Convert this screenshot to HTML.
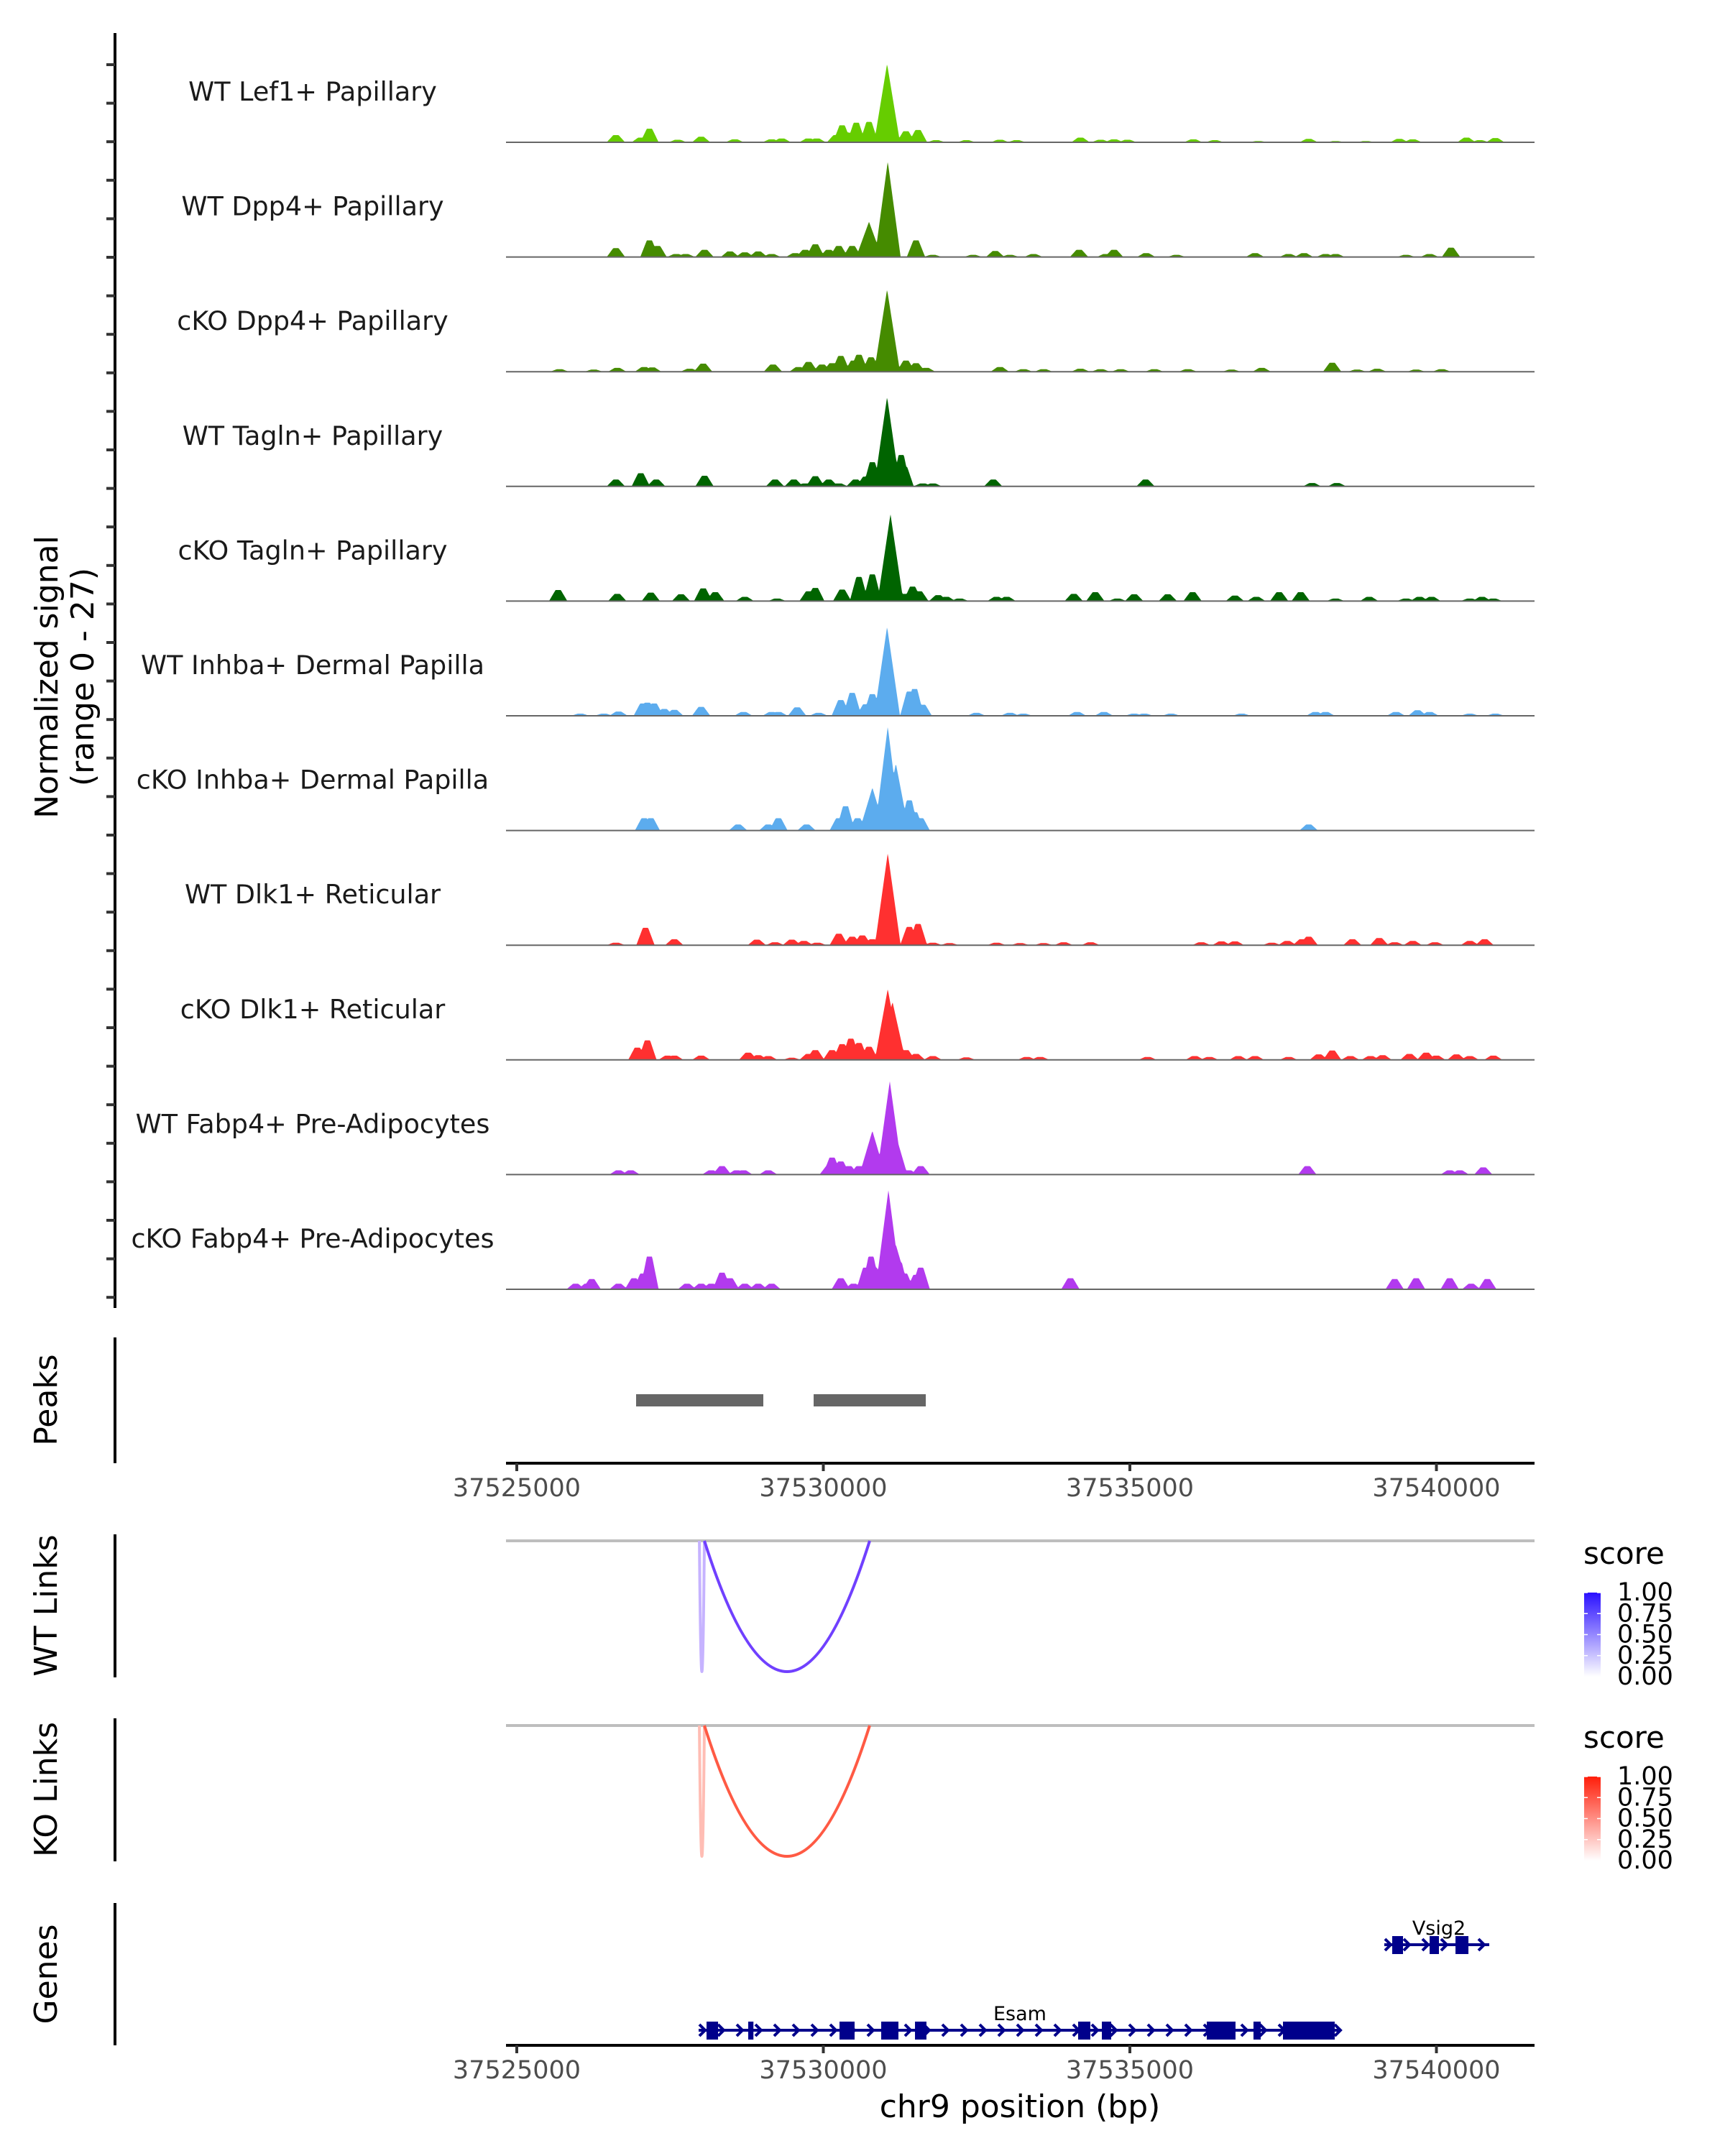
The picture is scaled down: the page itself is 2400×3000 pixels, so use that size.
<!DOCTYPE html>
<html><head><meta charset="utf-8"><title>Coverage plot chr9</title>
<style>
html,body{margin:0;padding:0;background:#fff;}
svg{display:block;}
text{font-family:"DejaVu Sans","Liberation Sans",sans-serif;}
</style></head>
<body>
<svg id="chart" width="2400" height="3000" viewBox="0 0 2400 3000" xmlns="http://www.w3.org/2000/svg">
<defs>
<linearGradient id="gradWT" x1="0" y1="1" x2="0" y2="0"><stop offset="0" stop-color="#ffffff"/><stop offset="1" stop-color="#2a10ff"/></linearGradient>
<linearGradient id="gradKO" x1="0" y1="1" x2="0" y2="0"><stop offset="0" stop-color="#ffffff"/><stop offset="1" stop-color="#ff1e0a"/></linearGradient>
</defs>
<g id="tracks"></g>
<g id="leftaxis"></g>
<text transform="translate(80,942) rotate(-90)" text-anchor="middle" font-size="44" fill="#000">Normalized signal</text>
<text transform="translate(130,942) rotate(-90)" text-anchor="middle" font-size="44" fill="#000">(range 0 - 27)</text>
<g id="peaks"></g>
<g id="links"></g>
<g id="genes"></g>
<g id="axes"></g>
<text transform="translate(79,1948) rotate(-90)" text-anchor="middle" font-size="44" fill="#000">Peaks</text>
<text transform="translate(79,2234) rotate(-90)" text-anchor="middle" font-size="44" fill="#000">WT Links</text>
<text transform="translate(79,2490) rotate(-90)" text-anchor="middle" font-size="44" fill="#000">KO Links</text>
<text transform="translate(79,2747) rotate(-90)" text-anchor="middle" font-size="44" fill="#000">Genes</text>
<text x="1419" y="2946" text-anchor="middle" font-size="44" fill="#000">chr9 position (bp)</text>
<g id="legends"></g>
</svg>
<script>
// positions are bp offsets from REGION_START; values are normalized signal (0-27)
const REGION_START = 37525000;
const trackNames = ["WT Lef1+ Papillary","WT Dpp4+ Papillary","cKO Dpp4+ Papillary","WT Tagln+ Papillary","cKO Tagln+ Papillary","WT Inhba+ Dermal Papilla","cKO Inhba+ Dermal Papilla","WT Dlk1+ Reticular","cKO Dlk1+ Reticular","WT Fabp4+ Pre-Adipocytes","cKO Fabp4+ Pre-Adipocytes"];
const trackColors = ["#66CD00","#458B00","#458B00","#006400","#006400","#5CACEE","#5CACEE","#FF3030","#FF3030","#B23AEE","#B23AEE"];
const lef1WT = [[1617,1.7],[2022,1.1],[2164,3.2],[2624,.6],[3007,1.3],[3555,.7],[4157,.7],[4321,.9],[4759,.9],[4891,.9],[5208,1.7],[5307,4.0],[5383,2.3],[5537,4.6],[5745,4.8],[6040,18.5],[6347,2.6],[6544,2.9],[6840,.5],[7333,.5],[7880,.6],[8154,.5],[9194,1.1],[9523,.6],[9742,.7],[9961,.6],[11034,.7],[11384,.5],[12095,.3],[12917,.8],[13355,.3],[13848,.3],[14395,.8],[14614,.7],[15490,1.1],[15709,.5],[15961,1.0]];
const dpp4WT = [[6051,22.5],[5745,8.3],[6511,3.9],[5471,2.6],[5252,2.6],[4869,3.0],[4705,1.7],[5088,1.7],[2164,3.9],[2296,2.6],[1617,2.1],[3062,1.7],[3478,1.3],[3719,1.1],[3938,1.3],[4157,.7],[4540,.9],[2602,.7],[2755,.7],[6785,.5],[7442,.5],[7803,1.4],[8044,.5],[8428,.7],[9172,1.7],[9610,.7],[9742,1.7],[10267,.9],[10760,.5],[12041,.9],[12589,.7],[12840,.9],[13191,.7],[13355,.7],[14505,.5],[14888,.7],[15238,2.2]];
const dpp4KO = [[6040,19.4],[5285,3.7],[5581,4.0],[5778,3.4],[5493,2.6],[5143,2.0],[4978,1.7],[4759,2.3],[4595,1.1],[4179,1.7],[6347,2.6],[6511,2.0],[6676,.9],[3040,1.9],[2821,.7],[2077,1.1],[2208,1.0],[1639,.9],[1255,.5],[697,.6],[7880,1.1],[8263,.6],[8592,.6],[9194,.7],[9523,.6],[9851,.6],[10399,.6],[10946,.6],[11658,.5],[12151,.9],[13300,2.1],[13705,.5],[14034,.7],[14669,.5],[15085,.6]];
const taglnWT = [[6040,21.1],[6106,10.3],[6270,7.4],[6325,4.6],[6172,4.0],[5800,5.7],[5690,2.3],[5526,1.6],[5252,.7],[5088,1.6],[4869,2.4],[4705,.7],[4518,1.6],[4212,1.6],[3062,2.5],[2022,3.1],[2274,1.6],[1617,1.6],[6621,.7],[6785,.7],[7771,1.6],[10256,1.6],[12972,.8],[13377,.8]];
const taglnKO = [[6095,20.5],[5800,6.3],[5581,5.7],[5307,2.7],[4869,3.1],[4759,2.3],[6456,3.4],[6566,2.3],[6325,1.7],[675,2.6],[1639,1.7],[2186,2.0],[2679,1.6],[3040,3.0],[3237,2.1],[3719,1.0],[4245,.6],[6873,1.4],[7004,1.0],[7223,.6],[7825,1.0],[7990,1.0],[9085,1.7],[9436,2.1],[9796,.6],[10070,1.6],[10618,1.6],[11023,2.1],[11713,1.3],[12063,1.0],[12435,2.1],[12786,2.1],[13355,.6],[13903,1.0],[14505,.6],[14724,1.0],[14921,1.0],[15545,.6],[15742,1.0],[15928,.6]];
const inhbaWT = [[6040,21.0],[6402,5.7],[6489,6.3],[5800,5.1],[5471,5.4],[5285,3.7],[5690,2.7],[5964,2.9],[6621,2.6],[4573,2.0],[2055,2.9],[2131,3.1],[2241,2.9],[2405,1.6],[2569,1.4],[3007,2.1],[1660,1.0],[1036,.5],[1420,.5],[3697,.9],[4157,.9],[4267,.9],[4924,.7],[7497,.7],[8044,.7],[8263,.5],[9139,.9],[9577,.9],[10070,.5],[10234,.5],[10672,.5],[11822,.5],[13027,.9],[13191,.9],[14341,.9],[14691,1.3],[14888,.9],[15545,.5],[15961,.5]];
const inhbaKO = [[6051,24.5],[6183,15.8],[5986,11.4],[5800,10.1],[6402,7.1],[6489,4.3],[6588,2.9],[5362,5.7],[5559,2.9],[5252,2.9],[2077,2.9],[2186,2.9],[3610,1.4],[4102,1.4],[4267,2.9],[4726,1.4],[12917,1.4]];
const dlk1WT = [[6051,21.7],[6402,4.3],[6544,5.0],[5252,2.7],[5471,2.0],[5636,2.3],[5800,1.4],[2099,4.1],[2569,1.4],[1617,.6],[3916,1.3],[4212,.7],[4486,1.3],[4683,1.0],[4902,.6],[6785,.6],[7059,.5],[7825,.6],[8209,.5],[8592,.5],[8920,.7],[9359,.7],[11165,.7],[11494,.9],[11713,.9],[12315,.6],[12567,1.0],[12808,1.4],[12917,2.0],[13629,1.4],[14067,1.7],[14319,.7],[14614,1.0],[14976,.7],[15545,1.0],[15786,1.4]];
const dlk1KO = [[6051,16.7],[6128,13.7],[5449,5.0],[5307,3.7],[5581,4.0],[5143,2.3],[5745,3.1],[4869,2.3],[4759,1.4],[2131,4.6],[1967,2.9],[2460,1.0],[2569,1.0],[3007,1.0],[3774,1.7],[3938,1.1],[4102,.9],[4486,.5],[6347,2.3],[6511,1.4],[6785,.9],[7333,.6],[8318,.7],[8537,.7],[10289,.7],[11056,.9],[11296,.7],[11768,.9],[12041,.9],[12589,.7],[13081,1.3],[13300,2.2],[13596,.9],[13925,.9],[14122,1.1],[14560,1.4],[14833,1.7],[14998,1.0],[15326,1.3],[15545,.9],[15928,1.0]];
const fabp4WT = [[6084,22.0],[6161,10.3],[5800,10.3],[5964,3.4],[5143,4.0],[5285,3.1],[5088,2.0],[5416,2.0],[5581,2.0],[6588,2.0],[6391,1.0],[1660,1.0],[1858,1.0],[3172,1.0],[3347,2.0],[3588,1.0],[3697,1.0],[4102,1.0],[12895,2.0],[15217,1.0],[15381,1.0],[15764,1.7]];
const fabp4KO = [[6062,23.4],[6183,10.5],[6238,6.3],[5778,7.7],[5690,5.1],[5833,5.1],[6325,3.7],[6588,5.1],[6511,3.4],[5285,2.6],[5493,1.3],[2164,7.7],[2055,3.7],[1912,2.6],[1222,2.4],[1146,1.3],[960,1.3],[1660,1.3],[2777,1.3],[3007,1.3],[3172,1.3],[3347,3.9],[3478,2.6],[3719,1.3],[3938,1.3],[4157,1.3],[9030,2.6],[14319,2.4],[14669,2.6],[15217,2.6],[15567,1.3],[15830,2.4]];
const trackSeries = [lef1WT,dpp4WT,dpp4KO,taglnWT,taglnKO,inhbaWT,inhbaKO,dlk1WT,dlk1KO,fabp4WT,fabp4KO];
const peakRegions = [[1946,4021],[4842,6671]];
const wtLinks = [[2978,3060,0.3],[3060,5756,0.75]];
const koLinks = [[2978,3060,0.3],[3060,5756,0.75]];
const esamExons = [[3095,3283],[3775,3860],[5264,5510],[5944,6225],[6495,6682],[9156,9355],[9543,9695],[11254,11723],[12016,12134],[12497,13341]];
const esamSpan = [2966,13400];
const vsig2Exons = [[14279,14455],[14889,15041],[15311,15522]];
const vsig2Span = [14150,15862];
const axisTicks = [37525000,37530000,37535000,37540000];
const legendTicks = ["0.00","0.25","0.50","0.75","1.00"];
const SIGNAL_MAX = 27;

const NS = "http://www.w3.org/2000/svg";
const X0 = 719, PX_PER_BP = 0.0853, PLOT_L = 704, PLOT_R = 2135;
const TRACK_TOP0 = 198, TRACK_STEP = 159.6;
function xs(off){ return X0 + off * PX_PER_BP; }
function bpAt(px){ return (px - X0) / PX_PER_BP; }
function ys(v){ return v / SIGNAL_MAX * TRACK_STEP; }
function mk(tag, attrs, parent){ const e = document.createElementNS(NS, tag); for (const k in attrs) e.setAttribute(k, attrs[k]); parent.appendChild(e); return e; }

// coverage tracks
const gT = document.getElementById('tracks');
trackSeries.forEach((series, i) => {
  const base = TRACK_TOP0 + i * TRACK_STEP;
  const g = mk('g', {}, gT);
  
  
  let d = 'M' + PLOT_L + ' ' + base;
  for (let px = PLOT_L; px <= PLOT_R; px += 1) {
    const bp = bpAt(px);
    let v = 0;
    series.forEach(p => {
      const w = p[1] > 8 ? 210 : 150;
      const t = 1 - Math.abs(bp - p[0]) / w;
      if (t > 0) v = Math.max(v, p[1] * Math.min(1, t * (p[1] > 8 ? 1 : 1.4)));
    });
    d += ' L' + px + ' ' + (base - ys(v)).toFixed(1);
  }
  d += ' L' + PLOT_R + ' ' + base + ' Z';
  const area = mk('path', {d: d, fill: trackColors[i], stroke: 'none'}, g);
  
  
  const bl = mk('line', {x1: PLOT_L, x2: PLOT_R, y1: base, y2: base, stroke: '#666', 'stroke-width': 2}, g);
  
  
  const lab = mk('text', {x: 435, y: base - 71 + 13, 'text-anchor': 'middle', 'font-size': 36.5, fill: '#1a1a1a'}, g);
  lab.textContent = trackNames[i];
  
  
});

// left signal axis
const gL = document.getElementById('leftaxis');
mk('line', {x1: 160, x2: 160, y1: 46, y2: 1820, stroke: '#000', 'stroke-width': 4}, gL);
for (let y = 90; y <= 1820; y += 53.6) {
  const tk = mk('line', {x1: 148, x2: 160, y1: y, y2: y, stroke: '#333', 'stroke-width': 4}, gL);
  
  
}
[[1861,2036],[2135,2334],[2391,2590],[2648,2846]].forEach(r => {
  const l = mk('line', {x1: 160, x2: 160, y1: r[0], y2: r[1], stroke: '#000', 'stroke-width': 4}, gL);
  
  
});

// peaks
const gP = document.getElementById('peaks');
peakRegions.forEach(r => {
  const rc = mk('rect', {x: xs(r[0]), y: 1940, width: xs(r[1]) - xs(r[0]), height: 17, fill: '#666666'}, gP);
  
  
});

// axes
const gA = document.getElementById('axes');
[2036, 2846].forEach(ay => {
  mk('line', {x1: PLOT_L, x2: PLOT_R, y1: ay, y2: ay, stroke: '#000', 'stroke-width': 4}, gA);
  axisTicks.forEach(t => {
    const x = xs(t - REGION_START);
    mk('line', {x1: x, x2: x, y1: ay, y2: ay + 11, stroke: '#333', 'stroke-width': 4}, gA);
    const tl = mk('text', {x: x, y: ay + 46, 'text-anchor': 'middle', 'font-size': 35, fill: '#4d4d4d'}, gA);
    tl.textContent = String(t);
    
    
  });
});

// links
const gK = document.getElementById('links');
function mixColor(top, s){ return 'rgb(' + top.map(c => Math.round(255 - s * (255 - c))).join(',') + ')'; }
function drawLinks(links, base, top, name){
  const g = mk('g', {}, gK);
  
  
  mk('line', {x1: PLOT_L, x2: PLOT_R, y1: base, y2: base, stroke: '#bebebe', 'stroke-width': 4}, g);
  const depth = 182;
  links.forEach(l => {
    const a = xs(l[0]), b = xs(l[1]);
    const p = mk('path', {d: 'M' + a + ' ' + base + ' Q' + ((a + b) / 2) + ' ' + (base + 2 * depth) + ' ' + b + ' ' + base, fill: 'none', stroke: mixColor(top, l[2]), 'stroke-width': 4}, g);
    
    
  });
}
drawLinks(wtLinks, 2144, [64,0,255], 'wt-links');
drawLinks(koLinks, 2401, [255,35,5], 'ko-links');

// genes
const gG = document.getElementById('genes');
const GENE_COLOR = '#00008B';
function drawGene(span, exons, y, label, lx, ly, name){
  const g = mk('g', {}, gG);
  
  
  const x1 = xs(span[0]), x2 = xs(span[1]);
  mk('line', {x1: x1, x2: x2, y1: y, y2: y, stroke: GENE_COLOR, 'stroke-width': 4}, g);
  for (let x = x1 + 6; x <= x2; x += 26) {
    mk('polyline', {points: (x - 5) + ',' + (y - 8) + ' ' + (x + 3) + ',' + y + ' ' + (x - 5) + ',' + (y + 8), fill: 'none', stroke: GENE_COLOR, 'stroke-width': 4}, g);
  }
  exons.forEach(e => {
    const r = mk('rect', {x: xs(e[0]), y: y - 12, width: Math.max(4, xs(e[1]) - xs(e[0])), height: 25, fill: GENE_COLOR}, g);
    
    
  });
  const t = mk('text', {x: lx, y: ly, 'text-anchor': 'middle', 'font-size': 27, fill: '#000'}, g);
  t.textContent = label;
}
drawGene(esamSpan, esamExons, 2825, 'Esam', 1419, 2811, 'gene-esam');
drawGene(vsig2Span, vsig2Exons, 2706, 'Vsig2', 2002, 2692, 'gene-vsig2');

// legends
const gLeg = document.getElementById('legends');
function drawLegend(top, grad, name){
  const g = mk('g', {}, gLeg);
  
  
  const t = mk('text', {x: 2203, y: top, 'font-size': 42, fill: '#000'}, g);
  t.textContent = 'score';
  const by = top + 40, bh = 117;
  mk('rect', {x: 2204, y: by, width: 23, height: bh, fill: 'url(#' + grad + ')'}, g);
  legendTicks.forEach((lb, k) => {
    const yy = by + bh - k * bh / 4;
    mk('line', {x1: 2204, x2: 2209, y1: yy, y2: yy, stroke: '#fff', 'stroke-width': 1.5}, g);
    mk('line', {x1: 2222, x2: 2227, y1: yy, y2: yy, stroke: '#fff', 'stroke-width': 1.5}, g);
    const tl = mk('text', {x: 2250, y: yy + 11, 'font-size': 35, fill: '#000'}, g);
    tl.textContent = lb;
  });
}
drawLegend(2176, 'gradWT', 'wt-score-legend');
drawLegend(2432, 'gradKO', 'ko-score-legend');
</script>
</body></html>
